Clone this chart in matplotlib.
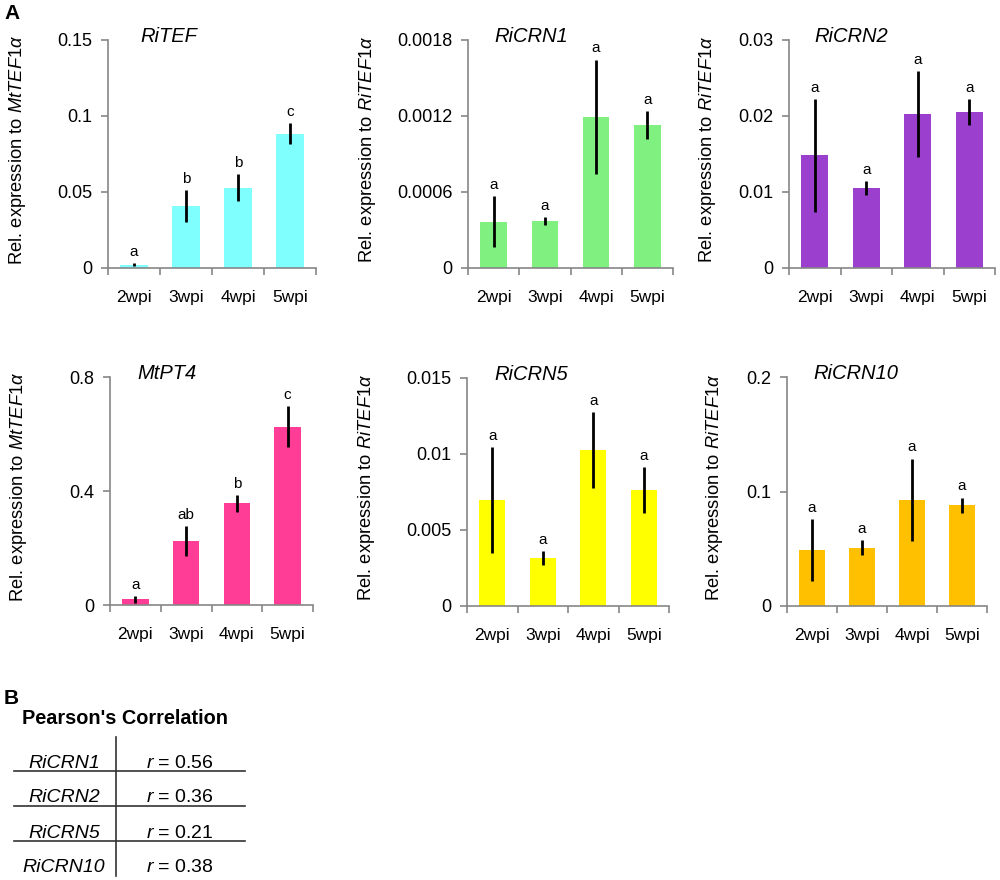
import matplotlib
matplotlib.use("Agg")
import matplotlib.pyplot as plt
import numpy as np

plt.rcParams['font.family'] = ['Liberation Sans', 'DejaVu Sans']
plt.rcParams['mathtext.fontset'] = 'custom'
plt.rcParams['mathtext.rm'] = 'Liberation Sans'
plt.rcParams['mathtext.it'] = 'Liberation Sans:italic'

# ---------------- data ----------------
weeks = ['2wpi', '3wpi', '4wpi', '5wpi']

ritef_vals = [0.002, 0.041, 0.0528, 0.0884]
ritef_err = [0.001, 0.0105, 0.009, 0.007]
ritef_let = ['a', 'b', 'b', 'c']

ricrn1_vals = [0.000366, 0.000371, 0.001195, 0.001127]
ricrn1_err = [0.0002, 0.00003, 0.00045, 0.00011]
ricrn1_let = ['a', 'a', 'a', 'a']

ricrn2_vals = [0.01483, 0.01057, 0.02026, 0.02053]
ricrn2_err = [0.0074, 0.0009, 0.0056, 0.0017]
ricrn2_let = ['a', 'a', 'a', 'a']

mtpt4_vals = [0.02, 0.225, 0.357, 0.625]
mtpt4_err = [0.012, 0.053, 0.029, 0.072]
mtpt4_let = ['a', 'ab', 'b', 'c']

ricrn5_vals = [0.00698, 0.00318, 0.01028, 0.00764]
ricrn5_err = [0.0035, 0.00046, 0.0025, 0.0015]
ricrn5_let = ['a', 'a', 'a', 'a']

ricrn10_vals = [0.049, 0.051, 0.0927, 0.088]
ricrn10_err = [0.027, 0.0067, 0.036, 0.0067]
ricrn10_let = ['a', 'a', 'a', 'a']

corr_genes = ['RiCRN1', 'RiCRN2', 'RiCRN5', 'RiCRN10']
corr_r = ['0.56', '0.36', '0.21', '0.38']

# ---------------- layout ----------------
W, H = 1000, 880
fig = plt.figure(figsize=(W / 100, H / 100), dpi=100)

def px_axes(x0, x1, ytop, ybot):
    return fig.add_axes([x0 / W, 1 - ybot / H, (x1 - x0) / W, (ybot - ytop) / H])

panels = [
    dict(pos=(108, 316, 40, 268), title='RiTEF', vals=ritef_vals, err=ritef_err, let=ritef_let,
         color='#80FFFF', ymax=0.15, ticks=[0, 0.05, 0.1, 0.15], tl=['0', '0.05', '0.1', '0.15'],
         ylab=r'Rel. expression to $\mathit{MtTEF1}\alpha$', lx=-0.385, tx=0.29),
    dict(pos=(468, 673, 40, 268), title='RiCRN1', vals=ricrn1_vals, err=ricrn1_err, let=ricrn1_let,
         color='#80F080', ymax=0.0018, ticks=[0, 0.0006, 0.0012, 0.0018], tl=['0', '0.0006', '0.0012', '0.0018'],
         ylab=r'Rel. expression to $\mathit{RiTEF1}\alpha$', lx=-0.44, tx=0.31),
    dict(pos=(789, 995, 40, 268), title='RiCRN2', vals=ricrn2_vals, err=ricrn2_err, let=ricrn2_let,
         color='#9B3FCF', ymax=0.03, ticks=[0, 0.01, 0.02, 0.03], tl=['0', '0.01', '0.02', '0.03'],
         ylab=r'Rel. expression to $\mathit{RiTEF1}\alpha$', lx=-0.345, tx=0.30),
    dict(pos=(110, 313, 377, 605), title='MtPT4', vals=mtpt4_vals, err=mtpt4_err, let=mtpt4_let,
         color='#FF3D96', ymax=0.8, ticks=[0, 0.4, 0.8], tl=['0', '0.4', '0.8'],
         ylab=r'Rel. expression to $\mathit{MtTEF1}\alpha$', lx=-0.40, tx=0.28),
    dict(pos=(467, 669, 378, 606), title='RiCRN5', vals=ricrn5_vals, err=ricrn5_err, let=ricrn5_let,
         color='#FFFF00', ymax=0.015, ticks=[0, 0.005, 0.01, 0.015], tl=['0', '0.005', '0.01', '0.015'],
         ylab=r'Rel. expression to $\mathit{RiTEF1}\alpha$', lx=-0.445, tx=0.32),
    dict(pos=(787, 987, 377, 606), title='RiCRN10', vals=ricrn10_vals, err=ricrn10_err, let=ricrn10_let,
         color='#FFC000', ymax=0.2, ticks=[0, 0.1, 0.2], tl=['0', '0.1', '0.2'],
         ylab=r'Rel. expression to $\mathit{RiTEF1}\alpha$', lx=-0.31, tx=0.345),
]

gray = '#868686'
for p in panels:
    ax = px_axes(*p['pos'])
    x = np.arange(len(weeks))
    ax.bar(x, p['vals'], width=0.52, color=p['color'], zorder=2)
    ax.errorbar(x, p['vals'], yerr=p['err'], fmt='none', ecolor='black', elinewidth=2,
                capsize=0, zorder=3)
    for xi, v, e, l in zip(x, p['vals'], p['err'], p['let']):
        ax.annotate(l, (xi, v + e), xytext=(0, 3), textcoords='offset points',
                    ha='center', va='bottom', fontsize=11)
    ax.set_xlim(-0.5, len(weeks) - 0.5)
    ax.set_ylim(0, p['ymax'])
    ax.set_xticks(x)
    ax.set_xticklabels(weeks, fontsize=12.5)
    ax.set_xticks(np.arange(len(weeks) + 1) - 0.5, minor=True)
    ax.tick_params(axis='x', which='major', length=0, pad=16)
    ax.tick_params(axis='x', which='minor', length=5, color=gray, width=1.2, direction='out')
    ax.set_yticks(p['ticks'])
    ax.set_yticklabels(p['tl'], fontsize=13)
    ax.tick_params(axis='y', length=5, color=gray, width=1.2, pad=6)
    for s in ['top', 'right']:
        ax.spines[s].set_visible(False)
    for s in ['left', 'bottom']:
        ax.spines[s].set_color(gray)
        ax.spines[s].set_linewidth(1.2)
    ax.set_ylabel(p['ylab'], fontsize=13.2)
    ax.yaxis.set_label_coords(p['lx'], 0.52)
    ax.text(p['tx'], 0.99, p['title'], transform=ax.transAxes, ha='center', va='baseline',
            fontsize=14.5, style='italic')

fig.text(4 / W, 1 - 4 / H, 'A', fontsize=15, fontweight='bold', ha='left', va='top')
fig.text(4 / W, 1 - 689 / H, 'B', fontsize=15, fontweight='bold', ha='left', va='top')

# ---------------- table (panel B) ----------------
tax = fig.add_axes([0, 0, 1, 1])
tax.set_xlim(0, W)
tax.set_ylim(H, 0)
tax.axis('off')
tax.text(125, 719, "Pearson's Correlation", fontsize=14.3, fontweight='bold', ha='center', va='center')
row_h = 35
row0 = 763
tax.plot([116, 116], [737, 876], color='#333333', lw=1.2)
for i, (g, r) in enumerate(zip(corr_genes, corr_r)):
    yc = row0 + i * row_h
    tax.text(64, yc, g, fontsize=14, style='italic', ha='center', va='center')
    tax.text(180, yc, r'$\mathit{r}$ = ' + r, fontsize=14, ha='center', va='center')
    if i < len(corr_genes) - 1:
        tax.plot([14, 245], [yc + 8.5, yc + 8.5], color='#333333', lw=1.2)

fig.savefig('out.png', dpi=100)
